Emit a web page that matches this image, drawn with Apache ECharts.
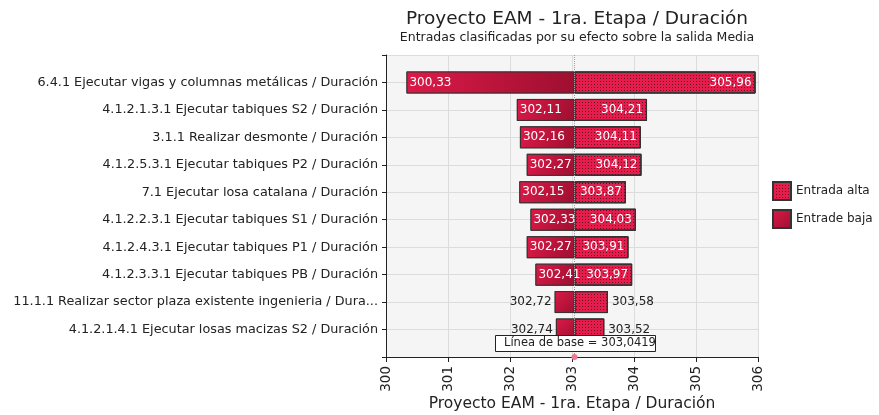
<!DOCTYPE html>
<html>
<head>
<meta charset="utf-8">
<script src="https://cdn.jsdelivr.net/npm/echarts@6/dist/echarts.min.js"></script>
<style>
  html, body { margin: 0; padding: 0; background: #fff; }
  #chart { width: 879px; height: 415px; }
</style>
</head>
<body>
<div id="chart"></div>
<script>
// datos del grafico tornado
var categories = [
  '6.4.1 Ejecutar vigas y columnas metálicas / Duración',
  '4.1.2.1.3.1 Ejecutar tabiques S2 / Duración',
  '3.1.1 Realizar desmonte / Duración',
  '4.1.2.5.3.1 Ejecutar tabiques P2 / Duración',
  '7.1 Ejecutar losa catalana / Duración',
  '4.1.2.2.3.1 Ejecutar tabiques S1 / Duración',
  '4.1.2.4.3.1 Ejecutar tabiques P1 / Duración',
  '4.1.2.3.3.1 Ejecutar tabiques PB / Duración',
  '11.1.1 Realizar sector plaza existente ingenieria / Dura...',
  '4.1.2.1.4.1 Ejecutar losas macizas S2 / Duración'
];
var lowValues  = [300.33, 302.11, 302.16, 302.27, 302.15, 302.33, 302.27, 302.41, 302.72, 302.74];
var highValues = [305.96, 304.21, 304.11, 304.12, 303.87, 304.03, 303.91, 303.97, 303.58, 303.52];
var baseline = 303.0419;
var xTicks = [300, 301, 302, 303, 304, 305, 306];
var outsideLabels = [8, 9]; // barras angostas: etiquetas por fuera

var font = 'DejaVu Sans';
function fmt(v, d) { return v.toFixed(d).replace('.', ','); }

// categoria vacia arriba y abajo para dejar media fila de margen
var yCats = [''].concat(categories, ['']);
function pad(arr) { return ['-'].concat(arr, ['-']); }

var baseData = pad(lowValues);
var lowData = pad(lowValues.map(function (v, i) {
  var item = { value: baseline - v, label: { formatter: fmt(v, 2) } };
  if (outsideLabels.indexOf(i) >= 0) item.label.position = 'left', item.label.color = '#222';
  return item;
}));
var highData = pad(highValues.map(function (v, i) {
  var item = { value: v - baseline, label: { formatter: fmt(v, 2) } };
  if (outsideLabels.indexOf(i) >= 0) item.label.position = 'right', item.label.color = '#222';
  return item;
}));
var outlineData = pad(highValues.map(function (v, i) { return v - lowValues[i]; }));

var myChart = echarts.init(document.getElementById('chart'));
var barW = 22;
var option = {
  animation: false,
  title: {
    text: 'Proyecto EAM - 1ra. Etapa / Duración',
    subtext: 'Entradas clasificadas por su efecto sobre la salida Media',
    left: 572, textAlign: 'center', top: 5, itemGap: 2,
    textStyle: { fontFamily: font, fontSize: 18.5, fontWeight: 'normal', color: '#222' },
    subtextStyle: { fontFamily: font, fontSize: 12.5, color: '#222' }
  },
  legend: {
    orient: 'vertical', left: 767, top: 176, itemGap: 8,
    itemWidth: 18, itemHeight: 18, icon: 'rect',
    textStyle: { fontFamily: font, fontSize: 12, color: '#222' },
    data: ['Entrada alta', 'Entrade baja']
  },
  grid: { left: 386, right: 121, top: 55, bottom: 58, outerBoundsMode: 'none', show: true, backgroundColor: '#f5f5f5', borderWidth: 0 },
  xAxis: {
    type: 'value', min: 300, max: 306, interval: 1,
    name: 'Proyecto EAM - 1ra. Etapa / Duración', nameLocation: 'middle', nameGap: 39, nameMoveOverlap: false,
    nameTextStyle: { fontFamily: font, fontSize: 15.5, color: '#222' },
    axisLine: { show: true, lineStyle: { color: '#222' } },
    axisTick: { show: true, length: 5, lineStyle: { color: '#222' } },
    axisLabel: { rotate: 90, fontFamily: font, fontSize: 13.5, color: '#222', margin: 9,
      formatter: function (v) { return xTicks.indexOf(v) >= 0 ? String(v) : ''; } },
    splitLine: { show: true, lineStyle: { color: '#dcdcdc' } }
  },
  yAxis: {
    type: 'category', data: yCats, inverse: true, boundaryGap: false,
    axisLine: { show: true, lineStyle: { color: '#222' } },
    axisTick: { show: true, length: 4, lineStyle: { color: '#222' } },
    axisLabel: { fontFamily: font, fontSize: 12.8, color: '#222', margin: 8, interval: 0 },
    splitLine: { show: true, lineStyle: { color: '#dcdcdc' } }
  },
  series: [
    {
      name: 'base', type: 'bar', stack: 'a', barWidth: barW, data: baseData,
      itemStyle: { color: 'transparent' }, silent: true, z: 2
    },
    {
      name: 'Entrade baja', type: 'bar', stack: 'a', barWidth: barW, data: lowData,
      itemStyle: {
        color: new echarts.graphic.LinearGradient(0, 0, 1, 1, [
          { offset: 0, color: '#dc1a48' }, { offset: 1, color: '#9e0f30' }
        ]),
        borderColor: '#333', borderWidth: 1
      },
      label: { show: true, position: 'insideLeft', color: '#fff', fontFamily: font, fontSize: 12, distance: 3, overflow: 'none' },
      z: 4
    },
    {
      name: 'Entrada alta', type: 'bar', stack: 'a', barWidth: barW, data: highData,
      itemStyle: {
        color: '#e41d4d', borderColor: '#333', borderWidth: 1,
        decal: { symbol: 'rect', symbolSize: 1, dashArrayX: [1, 2], dashArrayY: [1, 2], color: 'rgba(0,0,0,0.55)', rotation: 0 }
      },
      label: { show: true, position: 'insideRight', color: '#fff', fontFamily: font, fontSize: 12, distance: 4, overflow: 'none' },
      markLine: {
        silent: true, symbol: ['none', 'circle'], symbolSize: 6,
        lineStyle: { color: '#f07890', type: 'dotted', width: 1 },
        itemStyle: { color: '#e8506e' },
        label: { show: false },
        data: [{ xAxis: baseline }]
      },
      z: 3
    },
    {
      name: 'outlineBase', type: 'bar', stack: 'o', barWidth: barW, barGap: '-100%', data: baseData,
      itemStyle: { color: 'transparent' }, silent: true, z: 3
    },
    {
      name: 'outline', type: 'bar', stack: 'o', barWidth: barW, data: outlineData,
      itemStyle: { color: 'transparent', borderColor: '#333', borderWidth: 1.2 }, silent: true, z: 3
    }
  ],
  graphic: [
    { type: 'rect', left: 495, top: 335, z: 100, shape: { width: 160, height: 16 }, style: { fill: '#fff', stroke: '#222', lineWidth: 1 } },
    { type: 'text', left: 504, top: 337, z: 101, style: { text: 'L\u00ednea de base = ' + fmt(baseline, 4), fontFamily: font, fontSize: 11.5, fill: '#222' } }
  ]
};
myChart.clear();
myChart.setOption(option);
window.addEventListener('resize', () => { myChart.resize() });
</script>
</body>
</html>
